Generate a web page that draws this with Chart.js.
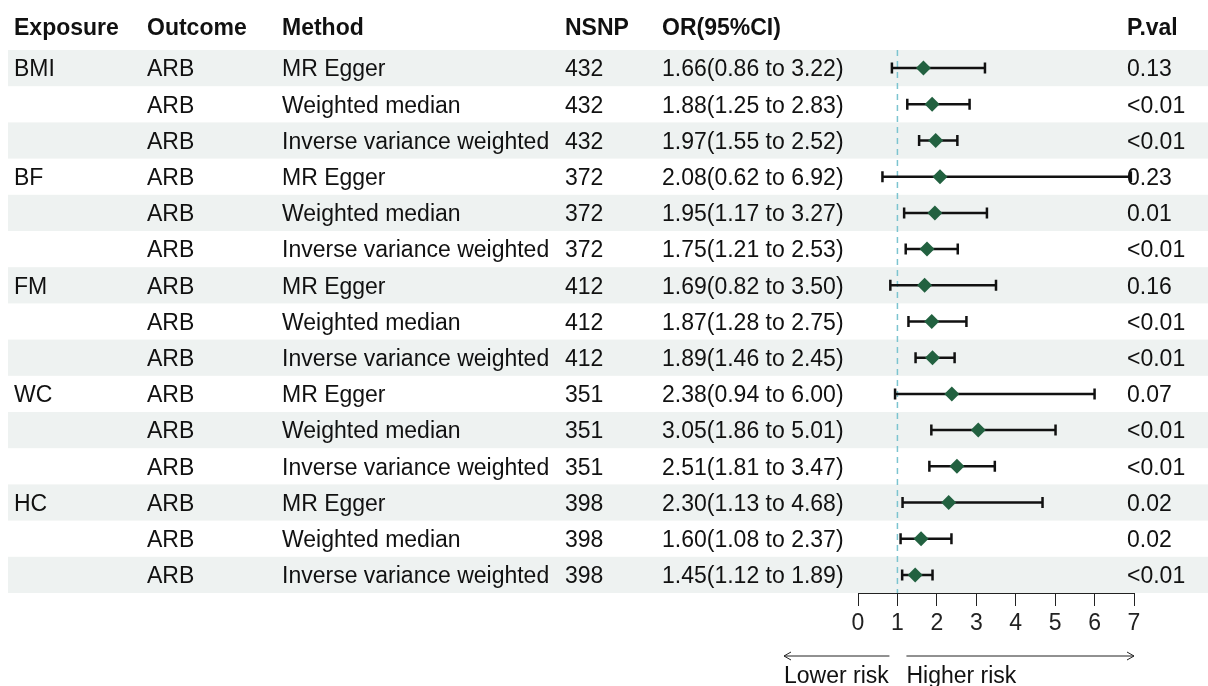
<!DOCTYPE html>
<html>
<head>
<meta charset="utf-8">
<script src="https://cdn.jsdelivr.net/npm/chart.js@4"></script>
<style>
  html, body { margin: 0; padding: 0; background: #fff; }
  #wrap { width: 1208px; height: 686px; position: relative; }
</style>
</head>
<body>
<div id="wrap"><canvas id="forest"></canvas></div>
<script>
// table columns
const exposures = ['BMI', '', '', 'BF', '', '', 'FM', '', '', 'WC', '', '', 'HC', '', ''];
const outcomes = ['ARB', 'ARB', 'ARB', 'ARB', 'ARB', 'ARB', 'ARB', 'ARB', 'ARB', 'ARB', 'ARB', 'ARB', 'ARB', 'ARB', 'ARB'];
const methods = ['MR Egger', 'Weighted median', 'Inverse variance weighted',
  'MR Egger', 'Weighted median', 'Inverse variance weighted',
  'MR Egger', 'Weighted median', 'Inverse variance weighted',
  'MR Egger', 'Weighted median', 'Inverse variance weighted',
  'MR Egger', 'Weighted median', 'Inverse variance weighted'];
const nsnp = [432, 432, 432, 372, 372, 372, 412, 412, 412, 351, 351, 351, 398, 398, 398];
const orValues = [1.66, 1.88, 1.97, 2.08, 1.95, 1.75, 1.69, 1.87, 1.89, 2.38, 3.05, 2.51, 2.30, 1.60, 1.45];
const lowerCI = [0.86, 1.25, 1.55, 0.62, 1.17, 1.21, 0.82, 1.28, 1.46, 0.94, 1.86, 1.81, 1.13, 1.08, 1.12];
const upperCI = [3.22, 2.83, 2.52, 6.92, 3.27, 2.53, 3.50, 2.75, 2.45, 6.00, 5.01, 3.47, 4.68, 2.37, 1.89];
const pvals = ['0.13', '<0.01', '<0.01', '0.23', '0.01', '<0.01', '0.16', '<0.01', '<0.01', '0.07', '<0.01', '<0.01', '0.02', '0.02', '<0.01'];
const xTicks = [0, 1, 2, 3, 4, 5, 6, 7];

const FONT = '"Liberation Sans", Arial, sans-serif';
const fmt = (v) => v.toFixed(2);

// columnas de texto, fondo de filas, barras de error y flechas
const tablePlugin = {
  id: 'tablePlugin',
  beforeDatasetsDraw(chart) {
    const ctx = chart.ctx;
    const y = chart.scales.y;
    const x = chart.scales.x;
    ctx.save();
    // filas sombreadas
    ctx.fillStyle = '#eef2f1';
    for (let i = 0; i < methods.length; i += 2) {
      const top = y.getPixelForValue(i - 0.5);
      const bot = y.getPixelForValue(i + 0.5);
      ctx.fillRect(8, top, 1200, bot - top);
    }
    // linea de referencia en OR = 1
    ctx.strokeStyle = '#7cc4d0';
    ctx.lineWidth = 1.5;
    ctx.setLineDash([6, 5]);
    ctx.beginPath();
    ctx.moveTo(x.getPixelForValue(1), chart.chartArea.top);
    ctx.lineTo(x.getPixelForValue(1), chart.chartArea.bottom);
    ctx.stroke();
    ctx.setLineDash([]);

    // barras de error
    ctx.strokeStyle = '#111';
    ctx.lineWidth = 2.5;
    for (let i = 0; i < orValues.length; i++) {
      const py = y.getPixelForValue(i);
      const x1 = x.getPixelForValue(lowerCI[i]);
      const x2 = x.getPixelForValue(upperCI[i]);
      ctx.beginPath();
      ctx.moveTo(x1, py); ctx.lineTo(x2, py);
      ctx.moveTo(x1, py - 5.5); ctx.lineTo(x1, py + 5.5);
      ctx.moveTo(x2, py - 5.5); ctx.lineTo(x2, py + 5.5);
      ctx.stroke();
    }

    // encabezados
    ctx.fillStyle = '#111';
    ctx.textBaseline = 'middle';
    ctx.font = 'bold 23px ' + FONT;
    const headY = 29;
    ctx.fillText('Exposure', 14, headY);
    ctx.fillText('Outcome', 147, headY);
    ctx.fillText('Method', 282, headY);
    ctx.fillText('NSNP', 565, headY);
    ctx.fillText('OR(95%CI)', 662, headY);
    ctx.fillText('P.val', 1127, headY);

    // cuerpo de la tabla
    ctx.font = '23px ' + FONT;
    for (let i = 0; i < methods.length; i++) {
      const py = y.getPixelForValue(i) + 2;
      ctx.fillText(exposures[i], 14, py);
      ctx.fillText(outcomes[i], 147, py);
      ctx.fillText(methods[i], 282, py);
      ctx.fillText(String(nsnp[i]), 565, py);
      ctx.fillText(fmt(orValues[i]) + '(' + fmt(lowerCI[i]) + ' to ' + fmt(upperCI[i]) + ')', 662, py);
      ctx.fillText(pvals[i], 1127, py);
    }

    // flechas de riesgo
    const one = x.getPixelForValue(1);
    const seven = x.getPixelForValue(7);
    const arrowY = 656;
    ctx.lineWidth = 1;
    ctx.strokeStyle = '#222';
    ctx.beginPath();
    ctx.moveTo(784, arrowY); ctx.lineTo(one - 8, arrowY);
    ctx.moveTo(784 + 7, arrowY - 4); ctx.lineTo(784, arrowY); ctx.lineTo(784 + 7, arrowY + 4);
    ctx.moveTo(one + 9, arrowY); ctx.lineTo(seven, arrowY);
    ctx.moveTo(seven - 7, arrowY - 4); ctx.lineTo(seven, arrowY); ctx.lineTo(seven - 7, arrowY + 4);
    ctx.stroke();
    ctx.fillText('Lower risk', 784, 677);
    ctx.fillText('Higher risk', one + 9, 677);
    ctx.restore();
  }
};

const points = orValues.map((v, i) => ({ x: v, y: i }));

new Chart(document.getElementById('forest'), {
  type: 'scatter',
  data: {
    datasets: [{
      data: points,
      pointStyle: 'rectRot',
      pointRadius: 7.5,
      pointHoverRadius: 7.5,
      backgroundColor: '#226140',
      borderColor: '#226140',
      borderWidth: 0
    }]
  },
  options: {
    responsive: true,
    maintainAspectRatio: false,
    animation: false,
    events: [],
    layout: { padding: { left: 858, right: 74, top: 50, bottom: 0 } },
    plugins: { legend: { display: false }, tooltip: { enabled: false } },
    scales: {
      x: {
        type: 'linear',
        min: 0,
        max: 7,
        afterBuildTicks: (axis) => { axis.ticks = xTicks.map(v => ({ value: v })); },
        border: { display: true, color: '#222', width: 1 },
        grid: { drawOnChartArea: false, drawTicks: true, tickLength: 13, color: '#222', tickColor: '#222' },
        ticks: { color: '#222', font: { family: FONT, size: 23 }, padding: 4, maxRotation: 0 },
        afterFit: (axis) => { axis.height = 93; }
      },
      y: {
        type: 'linear',
        reverse: true,
        min: -0.5,
        max: 14.5,
        display: false
      }
    }
  },
  plugins: [tablePlugin]
});
</script>
</body>
</html>
